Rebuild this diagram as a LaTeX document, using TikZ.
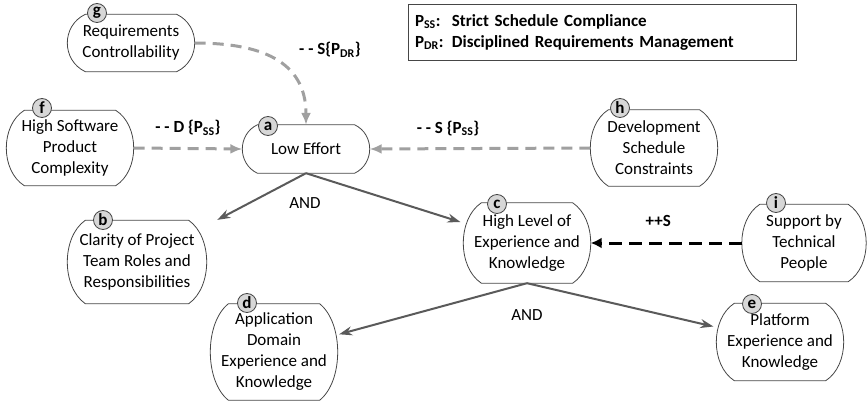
\documentclass[tikz,border=0pt]{standalone}
\usepackage{fontspec}
\setmainfont{Carlito}
\usetikzlibrary{arrows.meta,positioning,calc}

\definecolor{boxline}{RGB}{70,70,70}
\definecolor{softdash}{RGB}{160,160,160}
\definecolor{andline}{RGB}{90,90,90}
\definecolor{tagfill}{RGB}{215,215,215}

% bowed outline round a factor node
\newcommand{\factorline}[2][18pt]{%
  \draw[draw=boxline, line width=0.8pt, line join=round]
    ([xshift=#1]#2.north west) -- ([xshift=-#1]#2.north east)
    .. controls ($(#2.north east)!0.2!(#2.south east)+(#1/3,0)$) and ($(#2.north east)!0.8!(#2.south east)+(#1/3,0)$) .. ([xshift=-#1]#2.south east)
    -- ([xshift=#1]#2.south west)
    .. controls ($(#2.south west)!0.2!(#2.north west)+(-#1/3,0)$) and ($(#2.south west)!0.8!(#2.north west)+(-#1/3,0)$) .. cycle;
}

\begin{document}
\begin{tikzpicture}[x=1pt, y=-1pt,
    every node/.style={font=\fontsize{17}{21}\selectfont},
    factor/.style={rectangle, align=center, inner sep=2pt, minimum width=127pt},
    tag/.style={draw=boxline, line width=0.8pt, circle, fill=tagfill, inner sep=0pt, minimum size=19pt, font=\fontsize{17}{21}\selectfont\bfseries},
    weak/.style={draw=softdash, line width=3pt, dash pattern=on 11pt off 7pt, -{Latex[length=12pt,width=10pt]}},
    strong/.style={draw=black, line width=3pt, dash pattern=on 13pt off 7pt, -{Latex[length=11pt,width=11pt]}},
    andarrow/.style={draw=andline, line width=2pt, -{Stealth[length=13pt,width=9pt]}},
    lbl/.style={font=\fontsize{17}{21}\selectfont\bfseries}]
\useasboundingbox (0,0) rectangle (867,401);

% factors
\node[factor, minimum height=48pt] (a) at (306,149) {Low Effort};
\node[factor, minimum width=139pt, minimum height=83pt] (b) at (137,262) {Clarity of Project\\Team Roles and\\Responsibilities};
\node[factor, minimum height=80pt] (c) at (527,243) {High Level of\\Experience and\\Knowledge};
\node[factor, minimum height=96pt] (d) at (274,352) {Application\\Domain\\Experience and\\Knowledge};
\node[factor, minimum height=77pt] (e) at (780,342) {Platform\\Experience and\\Knowledge};
\node[factor, minimum height=75pt] (f) at (70,148) {High Software\\Product\\Complexity};
\node[factor, minimum height=57pt] (g) at (131,43) {Requirements\\Controllability};
\node[factor, minimum height=76pt] (h) at (654,148) {Development\\Schedule\\Constraints};
\node[factor, minimum width=124pt, minimum height=77pt] (i) at (804,243) {Support by\\Technical\\People};
\foreach \n in {b,c,d,e,f,g,h,i}
  \factorline{\n};
\factorline[15pt]{a}

% letters
\node[tag] (ta) at (268,126) {a};
\node[tag] (tb) at (103,220) {b};
\node[tag] (tc) at (497,204) {c};
\node[tag] (td) at (247,303) {d};
\node[tag] (te) at (752,304) {e};
\node[tag] (tf) at (42,108) {f};
\node[tag] (tg) at (97,13) {g};
\node[tag] (th) at (620,108) {h};
\node[tag] (ti) at (776,203) {i};

% legend
\node[draw=boxline, line width=0.8pt, text width=374pt, align=left, inner xsep=7pt, minimum height=56pt, lbl] (legend) at (602,32)
    {P\textsubscript{SS}:\ \ Strict Schedule Compliance\\P\textsubscript{DR}: Disciplined Requirements Management};

% influences
\draw[weak] (g.east) to[out=0, in=90, looseness=1.2] (a.north);
\node[lbl] (ldr) at (330,50) {- - S\{P\textsubscript{DR}\}};
\draw[weak] (f.east) -- (a.west) node[midway, above=8pt, lbl] (lfd) {- - D \{P\textsubscript{SS}\}};
\draw[weak] (h.west) -- (a.east) node[pos=0.645, above=8pt, lbl] (lhs) {- - S \{P\textsubscript{SS}\}};
\draw[strong] (i.west) -- (c.east) node[midway, above=12pt, lbl, xshift=-8pt] (lis) {++S};

% decompositions
\draw[andarrow, shorten >=12pt] (a.south) -- (b);
\draw[andarrow, shorten >=3pt] (a.south) -- (c);
\node (and1) at (305,203) {AND};
\draw[andarrow, shorten >=1.5pt] (c.south) -- (d);
\draw[andarrow, shorten >=3pt] (c.south) -- (e);
\node (and2) at (527,315) {AND};
\end{tikzpicture}
\end{document}
